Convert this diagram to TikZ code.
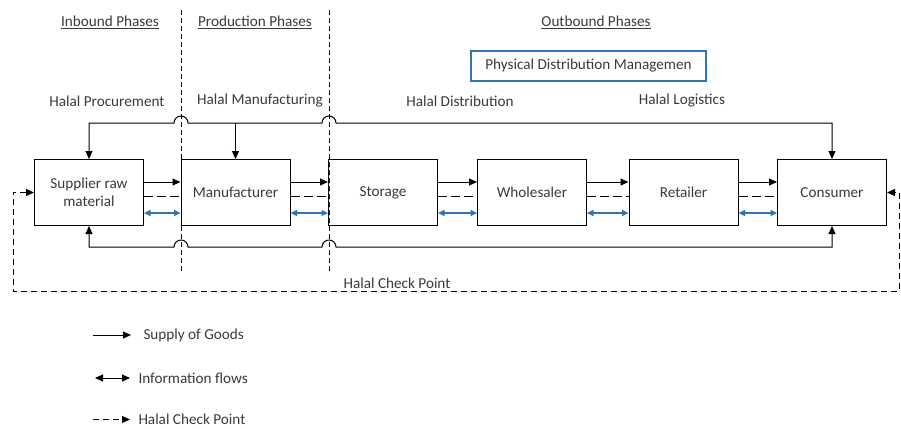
\documentclass[tikz,border=0pt]{standalone}
\usepackage{fontspec}
\setmainfont{Carlito}
\usetikzlibrary{arrows.meta}
\definecolor{txt}{HTML}{3A3A3A}
\definecolor{infob}{HTML}{2E75B6}
\begin{document}
\begin{tikzpicture}[x=1pt,y=-1pt,
  font=\fontsize{15.2}{17.5}\selectfont,
  every node/.style={text=txt},
  line width=1pt,
  tip/.style={-{Triangle[length=8pt,width=7pt]}},
  tips/.style={{Triangle[length=8pt,width=7pt]}-{Triangle[length=8pt,width=7pt]}},
  box/.style={draw=black, line width=1pt, minimum width=109pt, minimum height=66pt, inner sep=2pt, align=center},
  infoarr/.style={draw=infob, line width=1.2pt, {Triangle[length=6.5pt,width=6pt]}-{Triangle[length=6.5pt,width=6pt]}},
  chk/.style={dash pattern=on 9pt off 4pt},
  sep/.style={dash pattern=on 5pt off 3pt},
  loop/.style={dash pattern=on 6pt off 4pt},
  lbl/.style={inner sep=0pt}]
\useasboundingbox (0,0) rectangle (901,428);

% phase headers
\node[lbl] (hin) at (110,22) {\underline{Inbound Phases}};
\node[lbl] (hpr) at (255,22) {\underline{Production Phases}};
\node[lbl] (hout) at (596,22) {\underline{Outbound Phases}};
\node[draw=infob, line width=1.4pt, minimum width=235pt, minimum height=30pt] (pdm) at (588.5,66) {Physical Distribution Managemen};

\node[lbl] (lp) at (107,101) {Halal Procurement};
\node[lbl] (lm) at (260,101) {Halal Manufacturing};
\node[lbl] (ld) at (460,101) {Halal Distribution};
\node[lbl] (ll) at (682,101) {Halal Logistics};

% separators
\coordinate (s1t) at (181,10); \coordinate (s1b) at (181,272);
\coordinate (s2t) at (329,10); \coordinate (s2b) at (329,272);
\draw[sep] (s1t) -- (s1b);
\draw[sep] (s2t) -- (s2b);

% boxes
\node[box] (sup) at (89,192.5) {Supplier raw\\material};
\node[box] (man) at (235.5,192.5) {Manufacturer};
\node[box] (sto) at (383,192.5) {Storage};
\node[box] (who) at (532,192.5) {Wholesaler};
\node[box] (ret) at (683.5,192.5) {Retailer};
\node[box] (con) at (832,192.5) {Consumer};

% flows between boxes
\foreach \a/\b in {sup/man, man/sto, sto/who, who/ret, ret/con}{
  \draw[tip] ([yshift=10.5pt]\a.east) -- ([yshift=10.5pt]\b.west);
  \draw[chk] ([yshift=-3.5pt]\a.east) -- ([yshift=-3.5pt]\b.west);
  \draw[infoarr] ([yshift=-20.5pt]\a.east) -- ([yshift=-20.5pt]\b.west);
}

% top and bottom loops
\coordinate (ytop) at (0,123);
\coordinate (ybot) at (0,247);
\draw[tips] (sup.north) -- (sup.north |- ytop) -- (174,123)
  arc[start angle=180, end angle=0, radius=7pt] -- (322,123)
  arc[start angle=180, end angle=0, radius=7pt] -- (con.north |- ytop) -- (con.north);
\draw[tip] (man.north |- ytop) -- (man.north);
\draw[tips] (sup.south) -- (sup.south |- ybot) -- (174,247)
  arc[start angle=180, end angle=0, radius=7pt] -- (322,247)
  arc[start angle=180, end angle=0, radius=7pt] -- (con.south |- ybot) -- (con.south);

% halal check point loop
\coordinate (cl) at (13,192.5);
\coordinate (clb) at (13,291);
\coordinate (crb) at (899.5,291);
\coordinate (cr) at (899.5,192.5);
\draw[loop, tips] (sup.west) -- (cl) -- (clb) -- (crb) -- (cr) -- (con.east);
\node[lbl] (hcp) at (397,283) {Halal Check Point};

% legend
\coordinate (l1a) at (93,335); \coordinate (l1b) at (131,335);
\coordinate (l2a) at (95,378); \coordinate (l2b) at (130,378);
\coordinate (l3a) at (93,419.5); \coordinate (l3b) at (130,419.5);
\draw[tip] (l1a) -- (l1b);
\draw[tips] (l2a) -- (l2b);
\draw[dash pattern=on 6pt off 4pt, tip] (l3a) -- (l3b);
\node[lbl, anchor=west] (t1) at (143,335) {Supply of Goods};
\node[lbl, anchor=west] (t2) at (138,378) {Information flows};
\node[lbl, anchor=west] (t3) at (138,419.5) {Halal Check Point};
\end{tikzpicture}
\end{document}
